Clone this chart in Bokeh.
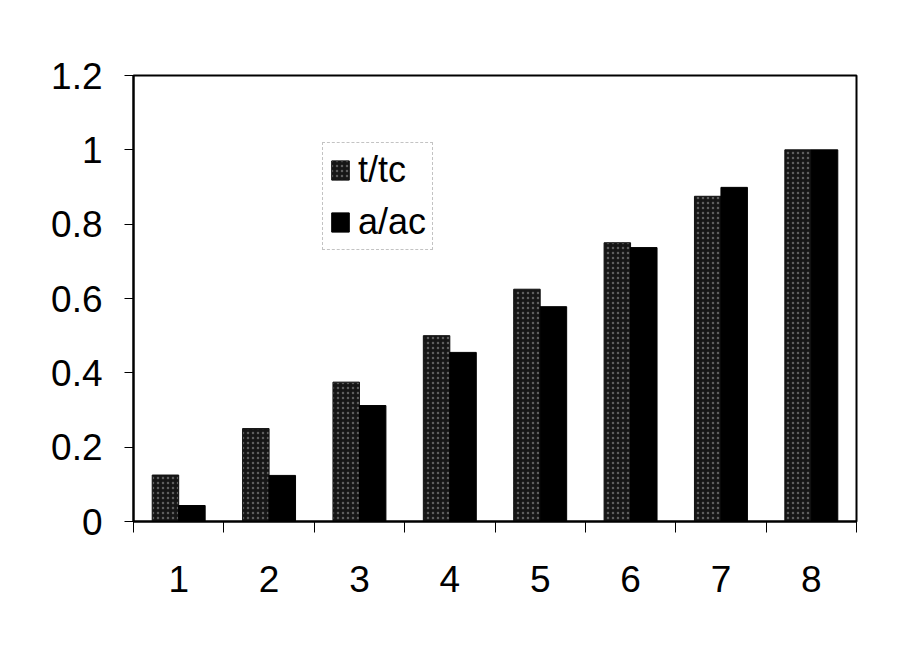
from bokeh.plotting import figure
from bokeh.models import Range1d, FixedTicker, Legend, LegendItem
from bokeh.embed import file_html
from bokeh.resources import INLINE

categories = [1, 2, 3, 4, 5, 6, 7, 8]
x_tick_labels = ["1", "2", "3", "4", "5", "6", "7", "8"]
t_tc = [0.125, 0.25, 0.375, 0.5, 0.625, 0.75, 0.875, 1.0]
a_ac = [0.043, 0.124, 0.312, 0.455, 0.578, 0.737, 0.899, 1.0]
y_ticks = [0, 0.2, 0.4, 0.6, 0.8, 1.0, 1.2]
y_tick_labels = ["0", "0.2", "0.4", "0.6", "0.8", "1", "1.2"]

FONT = "Liberation Sans"
BAR_W = 0.293

p = figure(width=906, height=640,
           x_range=Range1d(0.5, 8.5), y_range=Range1d(0, 1.2),
           output_backend="svg", toolbar_location=None,
           min_border_left=133, min_border_right=50,
           min_border_top=75, min_border_bottom=119)

p.xgrid.visible = False
p.ygrid.visible = False
p.outline_line_color = "black"
p.outline_line_width = 2
p.background_fill_color = "white"
p.border_fill_color = "white"

r1 = p.vbar(x=[c - BAR_W / 2 for c in categories], top=t_tc, width=BAR_W, bottom=0,
            fill_color="#161616", line_color="#111111", line_width=1,
            hatch_pattern="dot", hatch_color="#5e5e5e", hatch_scale=5, hatch_weight=1)
r2 = p.vbar(x=[c + BAR_W / 2 for c in categories], top=a_ac, width=BAR_W, bottom=0,
            fill_color="black", line_color="black", line_width=1)

# x axis
xa = p.xaxis[0]
xa.ticker = FixedTicker(ticks=categories, minor_ticks=[c + 0.5 for c in [0] + categories])
xa.major_label_overrides = {c: l for c, l in zip(categories, x_tick_labels)}
xa.major_tick_in = 0
xa.major_tick_out = 0
xa.major_tick_line_color = None
xa.minor_tick_in = 0
xa.minor_tick_out = 11
xa.minor_tick_line_color = "black"
xa.minor_tick_line_width = 1
xa.axis_line_color = "black"
xa.axis_line_width = 2
xa.major_label_text_font = FONT
xa.major_label_text_font_size = "37px"
xa.major_label_text_color = "black"
xa.major_label_standoff = 33

# y axis
ya = p.yaxis[0]
ya.ticker = FixedTicker(ticks=y_ticks)
ya.major_label_overrides = {t: l for t, l in zip(y_ticks, y_tick_labels)}
ya.major_tick_in = 0
ya.major_tick_out = 9
ya.major_tick_line_color = "black"
ya.minor_tick_line_color = None
ya.axis_line_color = "black"
ya.axis_line_width = 2
ya.major_label_text_font = FONT
ya.major_label_text_font_size = "37px"
ya.major_label_text_color = "black"
ya.major_label_standoff = 22

legend = Legend(items=[LegendItem(label="t/tc", renderers=[r1]),
                       LegendItem(label="a/ac", renderers=[r2])],
                location=(189, 271))
legend.label_text_font = FONT
legend.label_text_font_size = "36px"
legend.label_text_color = "black"
legend.glyph_width = 22
legend.glyph_height = 24
legend.label_standoff = 7
legend.spacing = 10
legend.padding = 6
legend.margin = 0
legend.border_line_color = "#888888"
legend.border_line_width = 1
legend.border_line_dash = "2 3"
legend.background_fill_color = "white"
legend.background_fill_alpha = 1
p.add_layout(legend, "center")

open("out.html", "w").write(file_html(p, INLINE))
